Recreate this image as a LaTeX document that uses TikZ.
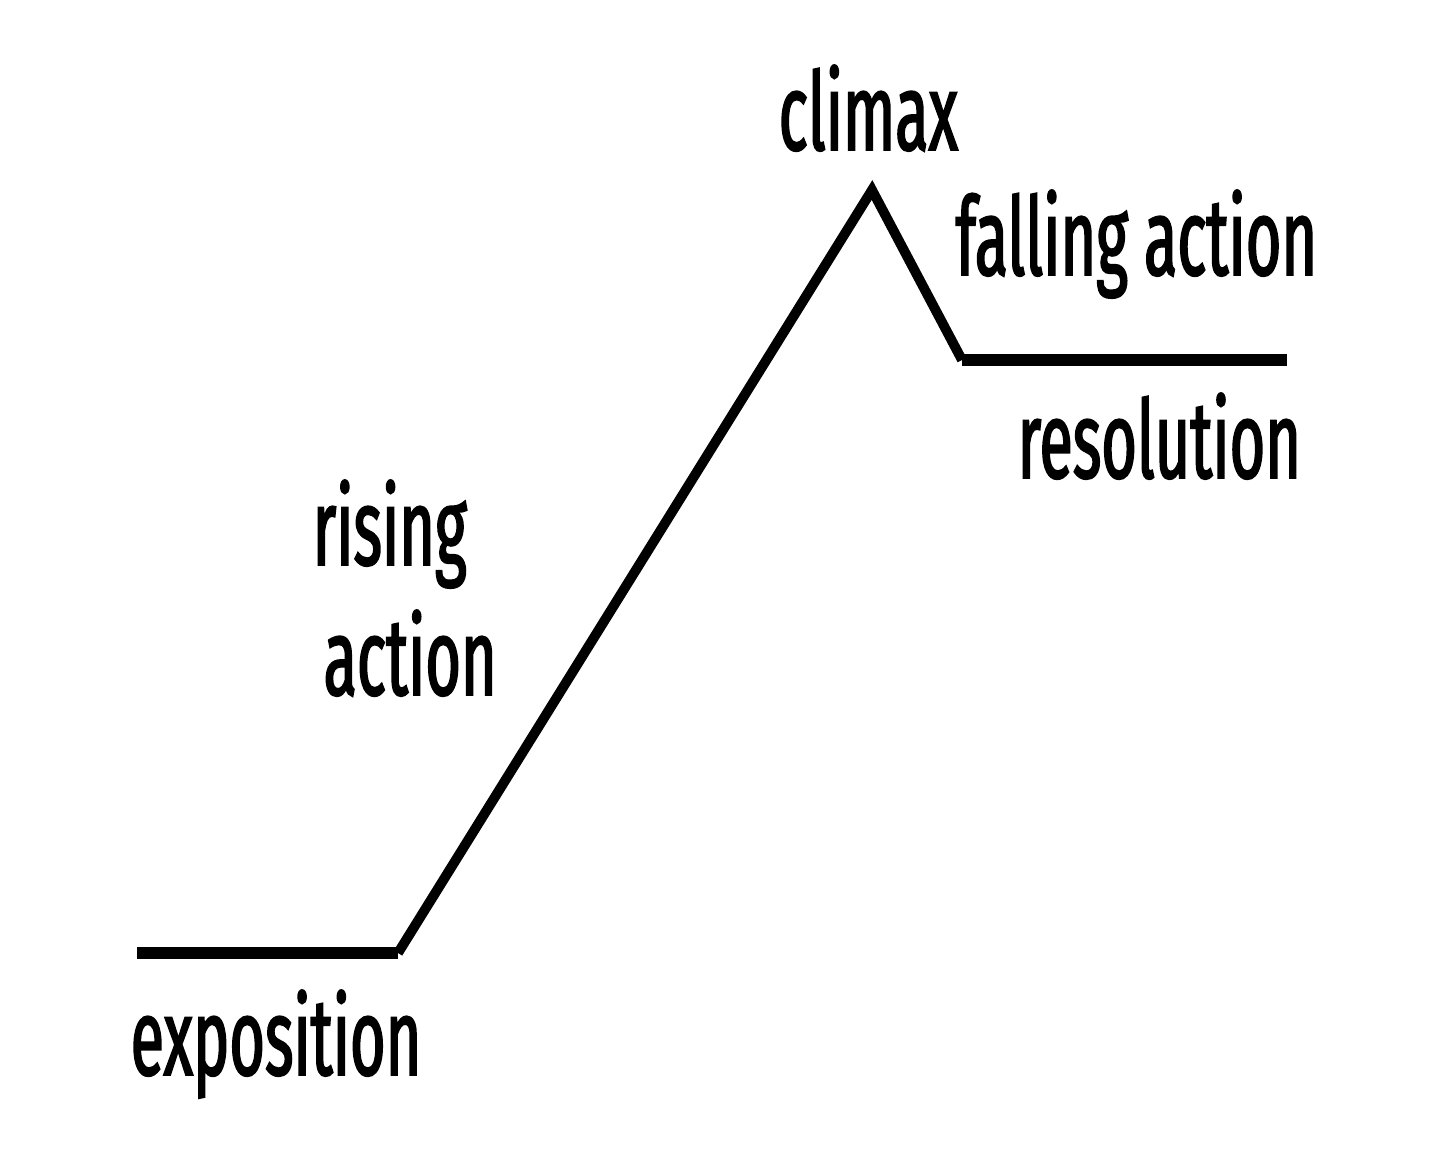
\documentclass[tikz,border=0pt]{standalone}
\usepackage{fontspec}
\setmainfont{Fira Sans}[FakeStretch=0.56,FakeBold=1.6]
\tikzset{
	plotline/.style={line width=3.4pt,line cap=butt,line join=miter},
	slopeline/.style={line width=2.8pt,line join=miter},
	stagelabel/.style={anchor=base west,inner sep=0pt,font=\fontsize{31}{31}\selectfont}
}
\begin{document}
		\begin{tikzpicture}[x=0.01cm,y=-0.01cm]
			\useasboundingbox (0,0) rectangle (1440,1149);
			\coordinate (start) at (137,953);
			\coordinate (rise) at (398,953);
			\coordinate (peak) at (872,190);
			\coordinate (fall) at (962,360);
			\coordinate (end) at (1287,360);
			\draw[plotline] (start)--(rise);
			\draw[slopeline] (rise)--(peak)--(fall);
			\draw[plotline] (fall)--(end);
			\node[stagelabel] (climax) at (778,150) {climax};
			\node[stagelabel] (falling) at (955,275) {falling action};
			\node[stagelabel] (resolution) at (1017,478) {resolution};
			\node[stagelabel] (rising) at (312,565) {rising};
			\node[stagelabel] (action) at (323,695) {action};
			\node[stagelabel] (exposition) at (130,1075) {exposition};
		\end{tikzpicture}
\end{document}
